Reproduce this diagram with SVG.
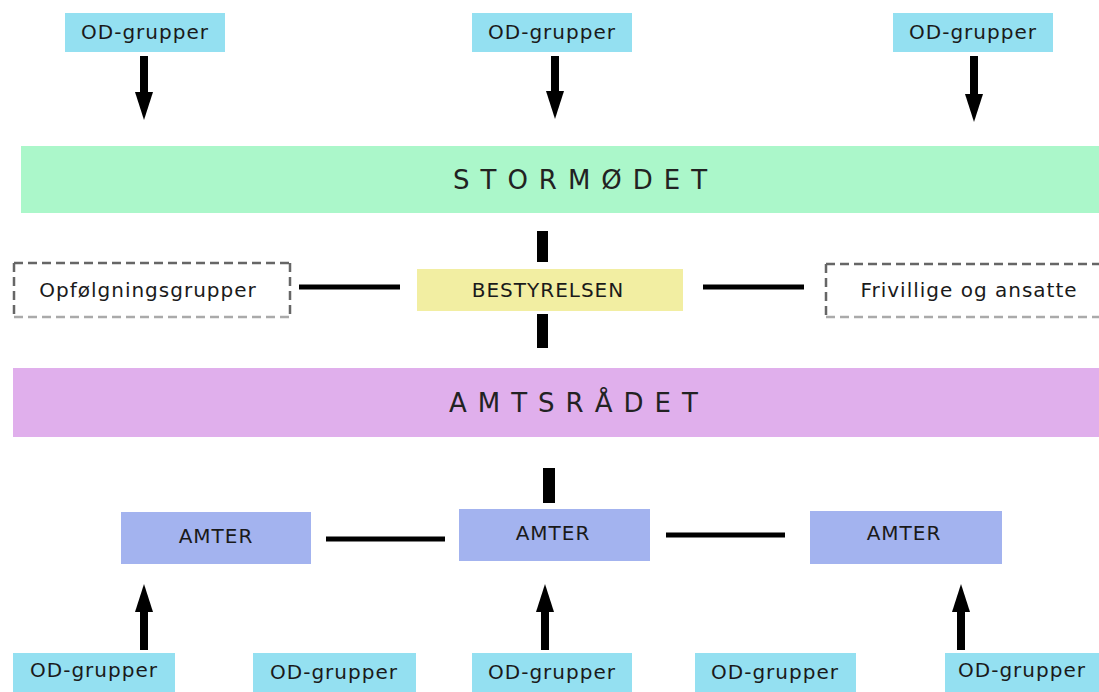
<svg xmlns="http://www.w3.org/2000/svg" width="1099" height="692" viewBox="0 0 1099 692">
<defs>
<marker id="ah" viewBox="0 0 28 18" refX="0" refY="9" markerWidth="28" markerHeight="18" markerUnits="userSpaceOnUse" orient="auto">
<path d="M0,0 L28,9 L0,18 z" fill="#000"/>
</marker>
<style>
text{font-family:"DejaVu Sans","Verdana",sans-serif;fill:#1a1a1a;text-anchor:middle}
.od{fill:#94e0f1}
.amt{fill:#a3b3ef}
.lbl{font-size:20px;letter-spacing:1px}
.big{font-size:26px;letter-spacing:11px;text-anchor:start;fill:#222}
.arr{stroke:#000;stroke-width:8;marker-end:url(#ah)}
.bar{fill:#000}
.hl{stroke:#000;stroke-width:5}
.dd{stroke:#666;stroke-width:2.5;stroke-dasharray:9 5;fill:none}
.dl{stroke:#aaa;stroke-width:2.5;stroke-dasharray:9 5;fill:none}
</style>
</defs>
<rect width="1099" height="692" fill="#fff"/>

<g id="od-top-1"><rect class="od" x="65" y="13" width="160" height="39"/><text class="lbl" x="145" y="39">OD-grupper</text></g>
<g id="od-top-2"><rect class="od" x="472" y="13" width="160" height="39"/><text class="lbl" x="552" y="39">OD-grupper</text></g>
<g id="od-top-3"><rect class="od" x="893" y="13" width="160" height="39"/><text class="lbl" x="973" y="39">OD-grupper</text></g>

<g id="stormodet"><rect x="21" y="146" width="1078" height="67" fill="#abf7ca"/><text class="big" x="453" y="189">STORMØDET</text></g>

<g id="opfolgning">
<rect x="14" y="263" width="276" height="54" fill="#fff"/>
<line class="dd" x1="14" y1="263" x2="290" y2="263"/>
<line class="dd" x1="14" y1="263" x2="14" y2="317"/>
<line class="dd" x1="290" y1="263" x2="290" y2="317"/>
<line class="dl" x1="14" y1="317" x2="290" y2="317"/>
<text class="lbl" x="148" y="297">Opfølgningsgrupper</text>
</g>

<g id="bestyrelsen"><rect x="417" y="269" width="266" height="42" fill="#f2eea2"/><text class="lbl" x="548" y="297">BESTYRELSEN</text></g>

<g id="frivillige">
<rect x="826" y="264" width="280" height="53" fill="#fff"/>
<line class="dd" x1="826" y1="264" x2="1105" y2="264"/>
<line class="dd" x1="826" y1="264" x2="826" y2="317"/>
<line class="dl" x1="826" y1="317" x2="1105" y2="317"/>
<text class="lbl" x="969" y="297">Frivillige og ansatte</text>
</g>

<g id="amtsradet"><rect x="13" y="368" width="1086" height="69" fill="#e0afec"/><text class="big" x="449" y="412">AMTSRÅDET</text></g>

<g id="amter-1"><rect class="amt" x="121" y="512" width="190" height="52"/><text class="lbl" x="216" y="543">AMTER</text></g>
<g id="amter-2"><rect class="amt" x="459" y="509" width="191" height="52"/><text class="lbl" x="553" y="540">AMTER</text></g>
<g id="amter-3"><rect class="amt" x="810" y="511" width="192" height="53"/><text class="lbl" x="904" y="540">AMTER</text></g>

<g id="od-bot-1"><rect class="od" x="13" y="653" width="162" height="39"/><text class="lbl" x="94" y="677">OD-grupper</text></g>
<g id="od-bot-2"><rect class="od" x="253" y="653" width="163" height="39"/><text class="lbl" x="334" y="679">OD-grupper</text></g>
<g id="od-bot-3"><rect class="od" x="472" y="653" width="160" height="39"/><text class="lbl" x="552" y="679">OD-grupper</text></g>
<g id="od-bot-4"><rect class="od" x="695" y="653" width="161" height="39"/><text class="lbl" x="775" y="679">OD-grupper</text></g>
<g id="od-bot-5"><rect class="od" x="945" y="653" width="154" height="39"/><text class="lbl" x="1022" y="677">OD-grupper</text></g>

<g id="connectors">
<line class="arr" x1="144" y1="56" x2="144" y2="92"/>
<line class="arr" x1="555" y1="56" x2="555" y2="91"/>
<line class="arr" x1="974" y1="56" x2="974" y2="94"/>
<rect class="bar" x="537" y="231" width="11" height="31"/>
<rect class="bar" x="537" y="314" width="11" height="34"/>
<line class="hl" x1="299" y1="287" x2="400" y2="287"/>
<line class="hl" x1="703" y1="287" x2="804" y2="287"/>
<rect class="bar" x="543" y="468" width="12" height="35"/>
<line class="hl" x1="326" y1="539" x2="445" y2="539"/>
<line class="hl" x1="666" y1="535" x2="785" y2="535"/>
<line class="arr" x1="144" y1="650" x2="144" y2="612"/>
<line class="arr" x1="545" y1="650" x2="545" y2="612"/>
<line class="arr" x1="961" y1="650" x2="961" y2="612"/>
</g>
</svg>
